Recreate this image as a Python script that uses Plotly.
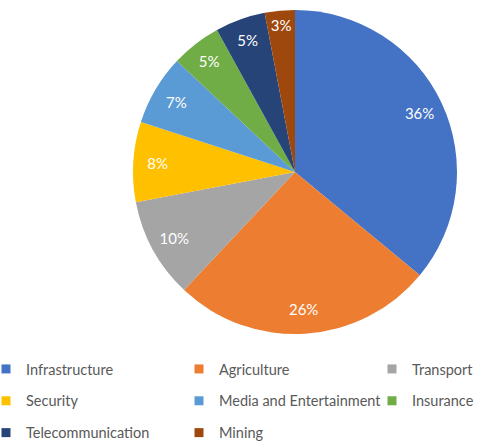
import plotly.graph_objects as go

labels = ["Infrastructure", "Agriculture", "Transport", "Security",
          "Media and Entertainment", "Insurance", "Telecommunication", "Mining"]
values = [36, 26, 10, 8, 7, 5, 5, 3]
colors = ["#4472C4", "#ED7D31", "#A5A5A5", "#FFC000",
          "#5B9BD5", "#70AD47", "#264478", "#9E480E"]

W, H = 479, 442
cx, cy, r = 295, 172, 162
dom = dict(x=[(cx - r) / W, (cx + r) / W], y=[1 - (cy + r) / H, 1 - (cy - r) / H])

fig = go.Figure()
fig.add_trace(go.Pie(
    labels=labels, values=values, sort=False, direction="clockwise", rotation=0,
    marker=dict(colors=colors, line=dict(width=0)),
    textinfo="none", showlegend=False, hoverinfo="label+percent", domain=dom,
))
# transparent ring carrying the percentage labels near the rim
fig.add_trace(go.Pie(
    labels=labels, values=values, sort=False, direction="clockwise", rotation=0,
    hole=0.7,
    marker=dict(colors=["rgba(0,0,0,0)"] * len(values), line=dict(width=0)),
    texttemplate="%{percent:.0%}", textposition="inside",
    insidetextorientation="horizontal",
    textfont=dict(color="white", size=15, family="Lato"),
    showlegend=False, hoverinfo="skip", domain=dom,
))

# legend laid out in three columns (row-major order like the reference)
ncols = 3
for k, lab in enumerate(labels):
    col = k % ncols
    lg = "legend" if col == 0 else f"legend{col + 1}"
    fig.add_trace(go.Scatter(
        x=[None], y=[None], mode="markers", name=lab, legend=lg, legendgroup=lab,
        marker=dict(symbol="square", size=9, color=colors[k]),
        hoverinfo="skip",
    ))

col_text_x = [26, 219, 412]
top_y = 353
legend_common = dict(orientation="v", xanchor="left", yanchor="top",
                     traceorder="grouped", tracegroupgap=10,
                     font=dict(family="Lato", size=14.5, color="#595959"),
                     bgcolor="rgba(0,0,0,0)", itemclick=False, itemdoubleclick=False)
layout_legends = {}
for i, tx in enumerate(col_text_x):
    key = "legend" if i == 0 else f"legend{i + 1}"
    layout_legends[key] = dict(legend_common, x=(tx - 40) / W, y=1 - top_y / H)

fig.update_layout(
    width=W, height=H, margin=dict(l=0, r=0, t=0, b=0, autoexpand=False),
    paper_bgcolor="white", plot_bgcolor="white",
    xaxis=dict(visible=False), yaxis=dict(visible=False),
    **layout_legends,
)
fig.write_html("out.html", config={"displayModeBar": False},
               post_script="document.body.style.margin='0';")
